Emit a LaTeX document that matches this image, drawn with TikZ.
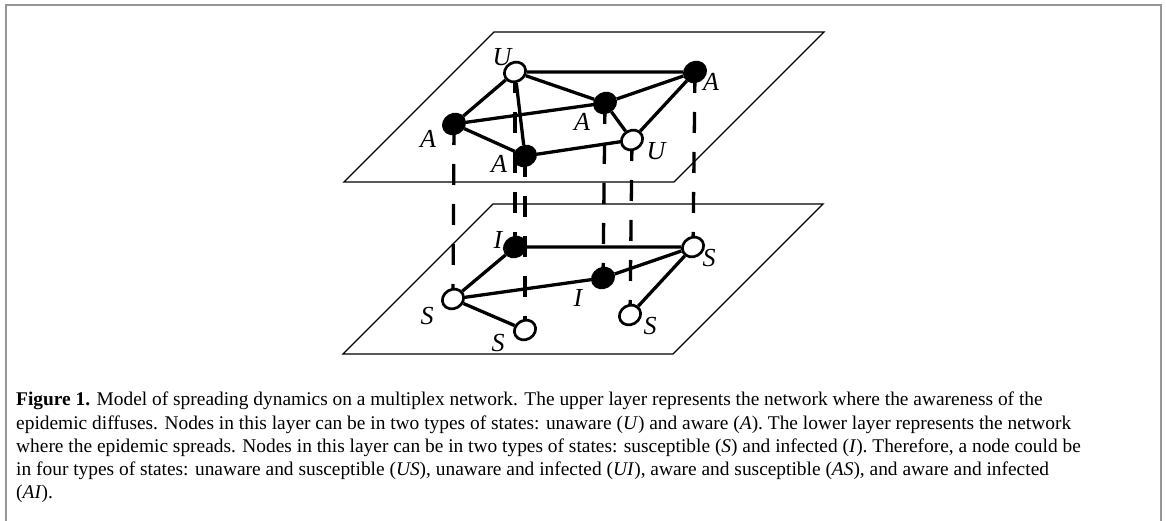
\documentclass[tikz,border=0pt]{standalone}
\usepackage{fontspec}
\setmainfont{Liberation Serif}
\usetikzlibrary{shapes.geometric,backgrounds}
\definecolor{framegray}{RGB}{150,150,150}
\begin{document}
\begin{tikzpicture}[x=1pt,y=-1pt,
  plane/.style={line width=1.3pt, line join=miter},
  edge/.style={line width=3.3pt},
  vdash/.style={line width=3.3pt, dash pattern=on 21pt off 19pt},
  vtx/.style={ellipse, draw, line width=2.7pt, minimum width=22pt, minimum height=19pt, inner sep=0pt, rotate=30},
  filledv/.style={vtx, fill=black},
  openv/.style={vtx, fill=white},
  lab/.style={font=\fontsize{26}{26}\selectfont\itshape, inner sep=0pt},
  captext/.style={font=\fontsize{19.4}{23}\selectfont, anchor=base west, inner sep=0pt}
]
\useasboundingbox (0,0) rectangle (1166,521);
% frame
\draw[framegray, line width=2pt] (6,530) -- (6,5) -- (1161,5) -- (1161,530);

% upper layer nodes
\node[openv]   (u1) at (515,72) {};
\node[filledv] (a2) at (695,72) {};
\node[filledv] (a3) at (605,103) {};
\node[filledv] (a1) at (454,124) {};
\node[filledv] (a4) at (525,156) {};
\node[openv]   (u2) at (632,140) {};
% lower layer nodes
\node[filledv] (i1) at (515,247) {};
\node[openv]   (s2) at (693,247) {};
\node[filledv] (i2) at (603,278) {};
\node[openv]   (s1) at (453,299) {};
\node[openv]   (s3) at (525,330) {};
\node[openv]   (s4) at (630,315) {};

% labels
\node[lab] (lu1) at (502,57) {U};
\node[lab] (la2) at (711,82) {A};
\node[lab] (la3) at (582,122) {A};
\node[lab] (la1) at (428,139) {A};
\node[lab] (la4) at (499,164) {A};
\node[lab] (lu2) at (656,151) {U};
\node[lab] (li1) at (498,240) {I};
\node[lab] (ls2) at (709,258) {S};
\node[lab] (li2) at (578,298) {I};
\node[lab] (ls1) at (427,316) {S};
\node[lab] (ls3) at (498,343) {S};
\node[lab] (ls4) at (650,326) {S};

\begin{pgfonlayer}{background}
% planes
\coordinate (p1) at (494,32);
\coordinate (p2) at (824,32);
\coordinate (p3) at (674,182);
\coordinate (p4) at (344,182);
\draw[plane] (p1) -- (p2) -- (p3) -- (p4) -- cycle;
\coordinate (q1) at (493,204);
\coordinate (q2) at (823,204);
\coordinate (q3) at (673,354);
\coordinate (q4) at (343,354);
\draw[plane] (q1) -- (q2) -- (q3) -- (q4) -- cycle;
% interlayer links
\draw[vdash] (u1.center) -- (i1.center);
\draw[vdash] (a4.center) -- (s3.center);
\draw[vdash] (a1.center) -- (s1.center);
\draw[vdash] (a3.center) -- (i2.center);
\draw[vdash] (u2.center) -- (s4.center);
\draw[vdash] (a2.center) -- (s2.center);
% upper edges
\draw[edge] (u1) -- (a2);
\draw[edge] (u1) -- (a3);
\draw[edge] (u1) -- (a1);
\draw[edge] (u1) -- (a4);
\draw[edge] (a1) -- (a3);
\draw[edge] (a1) -- (a4);
\draw[edge] (a3) -- (a2);
\draw[edge] (a3) -- (u2);
\draw[edge] (u2) -- (a2);
\draw[edge] (a4) -- (u2);
% lower edges
\draw[edge] (i1) -- (s2);
\draw[edge] (i1) -- (s1);
\draw[edge] (s1) -- (i2);
\draw[edge] (s1) -- (s3);
\draw[edge] (i2) -- (s2);
\draw[edge] (s2) -- (s4);
\end{pgfonlayer}

% caption
\node[captext] (c1) at (16,405) {\textbf{Figure 1.} Model of spreading dynamics on a multiplex network. The upper layer represents the network where the awareness of the};
\node[captext] (c2) at (16,429) {epidemic diffuses. Nodes in this layer can be in two types of states: unaware (\textit{U}) and aware (\textit{A}). The lower layer represents the network};
\node[captext] (c3) at (16,452) {where the epidemic spreads. Nodes in this layer can be in two types of states: susceptible (\textit{S}) and infected (\textit{I}). Therefore, a node could be};
\node[captext] (c4) at (16,475) {in four types of states: unaware and susceptible (\textit{US}), unaware and infected (\textit{UI}), aware and susceptible (\textit{AS}), and aware and infected};
\node[captext] (c5) at (16,498) {(\textit{AI}).};
\end{tikzpicture}
\end{document}
